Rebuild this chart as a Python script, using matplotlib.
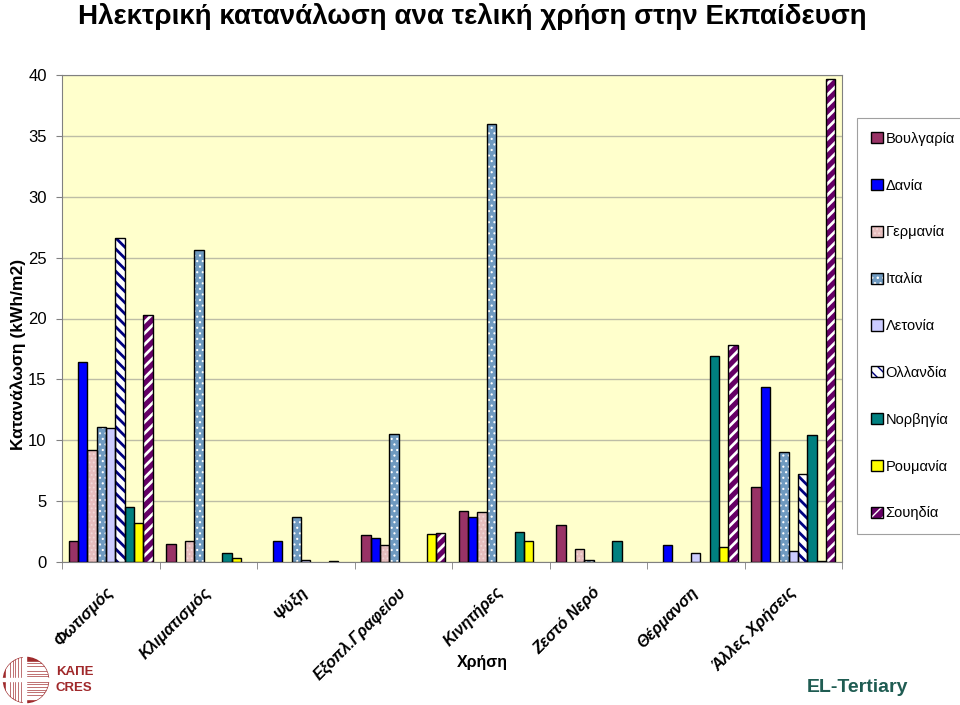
import numpy as np
import matplotlib.pyplot as plt
from matplotlib.patches import Patch, Circle, Rectangle

plt.rcParams['font.family'] = ['Liberation Sans', 'DejaVu Sans']

# categories (end uses) and countries
uses = ['Φωτισμός', 'Κλιματισμός', 'Ψύξη', 'Εξοπλ.Γραφείου', 'Κινητήρες',
        'Ζεστό Νερό', 'Θέρμανση', 'Άλλες Χρήσεις']
countries = ['Βουλγαρία', 'Δανία', 'Γερμανία', 'Ιταλία', 'Λετονία',
             'Ολλανδία', 'Νορβηγία', 'Ρουμανία', 'Σουηδία']

# kWh/m2 per use, one list per country
bulgaria = [1.7, 1.5, 0, 2.2, 4.2, 3.0, 0, 6.2]
denmark = [16.4, 0, 1.7, 2.0, 3.7, 0, 1.4, 14.4]
germany = [9.2, 1.7, 0, 1.4, 4.1, 1.1, 0, 0]
italy = [11.1, 25.6, 3.7, 10.5, 36.0, 0.2, 0, 9.0]
latvia = [11.0, 0, 0.2, 0, 0, 0, 0.7, 0.9]
netherlands = [26.6, 0, 0, 0, 0, 0, 0, 7.2]
norway = [4.5, 0.7, 0, 0, 2.5, 1.7, 16.9, 10.4]
romania = [3.2, 0.3, 0.1, 2.3, 1.7, 0, 1.2, 0.1]
sweden = [20.3, 0, 0, 2.4, 0, 0, 17.8, 39.7]

series = [bulgaria, denmark, germany, italy, latvia, netherlands, norway, romania, sweden]

# face colour, hatch, hatch colour, hatch linewidth
styles = [
    ('#993366', '', '#993366', 1.0),
    ('#0000FF', '', '#0000FF', 1.0),
    ('#E6BDBD', '....', '#F3D9D9', 0.8),
    ('#6F9AC0', '...', '#FFFFFF', 0.8),
    ('#CCCCFF', '', '#CCCCFF', 1.0),
    ('#FFFFFF', '\\\\\\', '#000080', 2.0),
    ('#008080', '', '#008080', 1.0),
    ('#FFFF00', '', '#FFFF00', 1.0),
    ('#660066', '///', '#FFFFFF', 2.0),
]

fig = plt.figure(figsize=(9.6, 7.05), dpi=100)
ax = fig.add_axes([62 / 960, 1 - 562 / 705, 780 / 960, 487 / 705])
ax.set_facecolor('#FFFFCC')

x = np.arange(len(uses))
w = 1 / 10.45
handles = []
for i, vals in enumerate(series):
    face, hatch, hcol, hlw = styles[i]
    pos = x + (i - 4) * w
    h = np.array(vals, dtype=float)
    h[h == 0] = np.nan
    with plt.rc_context({'hatch.linewidth': hlw}):
        ax.bar(pos, h, w, color=face, hatch=hatch, edgecolor=hcol, linewidth=0, zorder=2)
        p1 = Patch(facecolor=face, hatch=hatch, edgecolor=hcol, linewidth=0)
    ax.bar(pos, h, w, fill=False, edgecolor='black', linewidth=1, zorder=3)
    p2 = Patch(facecolor='none', edgecolor='black', linewidth=1)
    handles.append((p1, p2))

ax.set_xlim(-0.5, len(uses) - 0.5)
ax.set_ylim(0, 40)
ax.set_yticks(range(0, 41, 5))
ax.yaxis.grid(True, color='#BDBDA6', linewidth=1)
ax.set_axisbelow(True)
for s in ax.spines.values():
    s.set_color('#808080')
ax.tick_params(axis='y', labelsize=12, length=4, color='#808080', pad=7)

ax.set_xticks(x)
ax.set_xticklabels(uses, rotation=45, ha='right', va='center', rotation_mode='anchor',
                   fontsize=11.5, fontweight='bold', fontstyle='italic')
ax.tick_params(axis='x', which='major', length=0, pad=20)
ax.set_xticks(np.arange(-0.5, len(uses), 1), minor=True)
ax.tick_params(axis='x', which='minor', length=5, color='#808080')

fig.text(0.492, 0.976, 'Ηλεκτρική κατανάλωση ανα τελική χρήση στην Εκπαίδευση',
         ha='center', va='center', fontsize=20, fontweight='bold')
fig.text(0.019, 0.497, 'Κατανάλωση (kWh/m2)', rotation=90, ha='center', va='center',
         fontsize=12.5, fontweight='bold')
fig.text(482 / 960, 1 - 663 / 705, 'Χρήση', ha='center', va='center',
         fontsize=11.5, fontweight='bold')

leg = fig.legend(handles, countries, loc='upper left', bbox_to_anchor=(857 / 960, 1 - 118 / 705),
                 fontsize=10.5, handlelength=0.8, handleheight=0.8, handletextpad=0.2,
                 labelspacing=2.25, borderpad=0.95, borderaxespad=0, fancybox=False,
                 framealpha=1, edgecolor='#A0A0A0')
leg.get_frame().set_linewidth(0.8)

# KAPE / CRES logo
lax = fig.add_axes([2 / 960, 1 / 705, 48 / 960, 48 / 705])
lax.set_xlim(0, 1)
lax.set_ylim(0, 1)
lax.axis('off')
disk = Circle((0.5, 0.5), 0.47, color='#9E2A2B')
lax.add_patch(disk)
for k in range(7):
    lax.add_patch(Rectangle((0.08 + k * 0.055, 0), 0.015, 1, color='white', clip_path=disk))
    lax.add_patch(Rectangle((0.5, 0.54 + k * 0.055), 0.5, 0.015, color='white', clip_path=disk))
    lax.add_patch(Rectangle((0.5, 0.1 + k * 0.055), 0.5, 0.015, color='white', clip_path=disk))
lax.add_patch(Rectangle((0.44, 0), 0.07, 1, color='white'))
lax.add_patch(Rectangle((0, 0.47), 1, 0.07, color='white'))
fig.text(56 / 960, 1 - 672 / 705, 'ΚΑΠΕ', ha='left', va='center', fontsize=9.5,
         fontweight='bold', color='#A0282A')
fig.text(56 / 960, 1 - 688 / 705, 'CRES', ha='left', va='center', fontsize=9.5,
         fontweight='bold', color='#A0282A')

fig.text(857 / 960, 1 - 688 / 705, 'EL-Tertiary', ha='center', va='center',
         fontsize=14, fontweight='bold', color='#1F5C52')

fig.savefig('out.png', dpi=100)
